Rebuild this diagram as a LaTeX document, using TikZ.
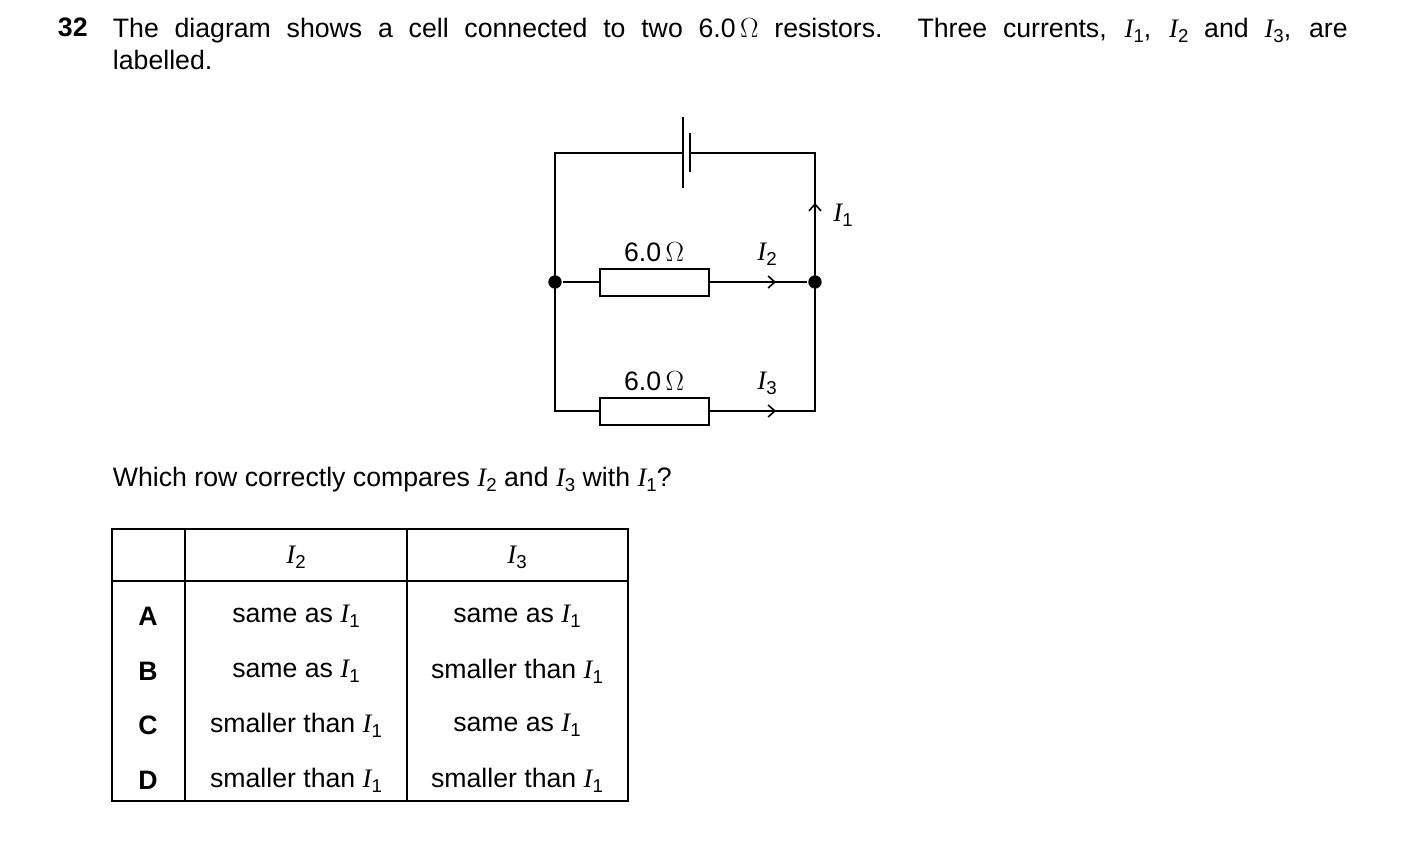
\documentclass[tikz,border=0pt]{standalone}
\usepackage{fontspec}
\setmainfont{Liberation Sans}
\newfontfamily\serif{Liberation Serif}
\usetikzlibrary{arrows.meta}
\newcommand\Ic[1]{{\serif\itshape I}\raisebox{-0.35ex}{\fontsize{14pt}{16pt}\selectfont #1}}
\begin{document}
\begin{tikzpicture}[x=0.75pt,y=-0.75pt,line width=1.4pt,
  every node/.style={font=\fontsize{20pt}{24pt}\selectfont,inner sep=0pt},
  arr/.style={-{Straight Barb[length=5pt,width=9pt,line width=1.2pt]}},
  res/.style={draw,fill=white,minimum width=82pt,minimum height=20pt},
  dot/.style={circle,fill,minimum size=10pt}]
\useasboundingbox (0,0) rectangle (1403,852);
% title
\node[anchor=north west,font=\fontsize{20pt}{24.5pt}\selectfont\bfseries] (q) at (57,17) {32};
\node[anchor=north west] (t) at (112,17) {\parbox{926pt}{The diagram shows a cell connected to two 6.0\,$\Omega$ resistors. Three currents, \Ic{1}, \Ic{2} and \Ic{3}, are\linebreak labelled.}};
% circuit
\coordinate (tl) at (555,153); \coordinate (tr) at (815,153);
\coordinate (bl) at (555,411); \coordinate (br) at (815,411);
\node[dot] (ml) at (555,282) {}; \node[dot] (mr) at (815,282) {};
\coordinate (c1t) at (683,117); \coordinate (c1b) at (683,188);
\coordinate (c2t) at (690,133); \coordinate (c2b) at (690,172);
\coordinate (c1) at (683,153); \coordinate (c2) at (690,153);
\draw (c1) -- (tl) -- (bl) -- (br) -- (tr) -- (c2);
\draw (c1t) -- (c1b); \draw (c2t) -- (c2b);
\draw (ml) -- (mr);
\node[res] (r1) at (654.5,282.5) {};
\node[res] (r2) at (654.5,411.5) {};
\coordinate (a1s) at (750,282); \coordinate (a1e) at (776,282);
\coordinate (a2s) at (750,411); \coordinate (a2e) at (776,411);
\draw[arr] (a1s) -- (a1e); \draw[arr] (a2s) -- (a2e);
\coordinate (a3s) at (815,225); \coordinate (a3e) at (815,203);
\draw[arr] (a3s) -- (a3e);
\node (l1) at (654,252) {6.0\,$\Omega$};
\node (l2) at (654,381) {6.0\,$\Omega$};
\node (i2) at (767,254) {\Ic{2}};
\node (i3) at (767,383) {\Ic{3}};
\node (i1) at (843,215) {\Ic{1}};
% question
\node[anchor=west] (w) at (112,480) {Which row correctly compares \Ic{2} and \Ic{3} with \Ic{1}?};
% table
\draw[line width=1.1pt] (112,529) rectangle (628,801);
\draw[line width=1.1pt] (112,581) -- (628,581);
\draw[line width=1.1pt] (185,529) -- (185,801);
\draw[line width=1.1pt] (407,529) -- (407,801);
\node (h2) at (296,557) {\Ic{2}};
\node (h3) at (517,557) {\Ic{3}};
\foreach \r/\y/\a/\b in {A/616/same as \Ic{1}/same as \Ic{1},
  B/671/same as \Ic{1}/smaller than \Ic{1},
  C/725/smaller than \Ic{1}/same as \Ic{1},
  D/780/smaller than \Ic{1}/smaller than \Ic{1}}{
  \node[font=\fontsize{20pt}{24pt}\selectfont\bfseries] (row\r) at (148,\y) {\r};
  \node (a\r) at (296,\y) {\a};
  \node (b\r) at (517,\y) {\b};
}
\end{tikzpicture}
\end{document}
